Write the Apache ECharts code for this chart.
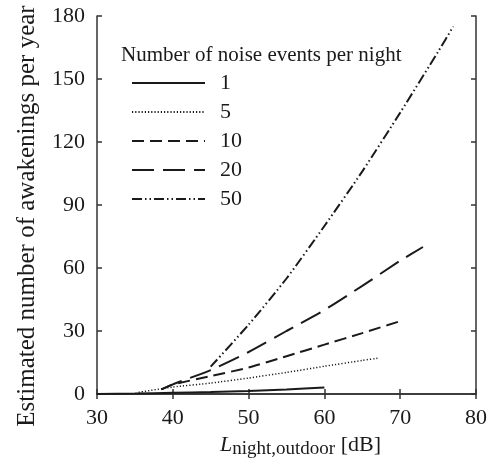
<!DOCTYPE html>
<html>
<head>
<meta charset="utf-8">
<script src="https://cdn.jsdelivr.net/npm/echarts@6/dist/echarts.min.js"></script>
<style>
  html, body { margin: 0; padding: 0; background: #fff; }
  #chart { width: 495px; height: 470px; }
</style>
</head>
<body>
<div id="chart"></div>
<script>
const xTicks = [30, 40, 50, 60, 70, 80];
const yTicks = [0, 30, 60, 90, 120, 150, 180];

const eventCounts = ['1', '5', '10', '20', '50'];

// level [dB] and awakenings per year
const lvl1X = [30, 35, 40, 45, 50, 55, 60];
const lvl1Y = [0, 0.2, 0.6, 0.9, 1.4, 2.1, 3.1];
const lvl5X = [35.5, 40, 45, 50, 55, 60, 65, 67];
const lvl5Y = [0.8, 3.3, 5.2, 7.6, 10.3, 13.2, 16, 17];
const lvl10X = [38.5, 40, 45, 50, 55, 60, 65, 70];
const lvl10Y = [2.2, 4.5, 8.5, 12.6, 18, 23.5, 29, 34.7];
const lvl20X = [38.5, 40, 45, 50, 55, 60, 65, 70, 73];
const lvl20Y = [2.2, 4.6, 11.4, 20, 30, 40, 51.5, 63.5, 70];
const lvl50X = [45, 50, 55, 60, 65, 70, 75, 77];
const lvl50Y = [13, 33, 55, 80, 106, 134, 163, 175];

const zip = (xs, ys) => xs.map((x, i) => [x, ys[i]]);

const font = 'Liberation Serif';
const ink = '#1a1a1a';

const lineKinds = [
  { data: zip(lvl1X, lvl1Y), width: 2, type: 'solid' },
  { data: zip(lvl5X, lvl5Y), width: 1.5, type: [1.2, 2] },
  { data: zip(lvl10X, lvl10Y), width: 2, type: [12, 6] },
  { data: zip(lvl20X, lvl20Y), width: 2, type: [22, 9] },
  { data: zip(lvl50X, lvl50Y), width: 2, type: [10, 3, 1.5, 3, 1.5, 3] }
];

const series = lineKinds.map((k, i) => ({
  name: eventCounts[i],
  type: 'line',
  data: k.data,
  smooth: 0.2,
  symbol: 'none',
  silent: true,
  lineStyle: { color: ink, width: k.width, type: k.type },
  itemStyle: { color: ink }
}));

const axisLineStyle = { color: '#333', width: 1.5 };

const option = {
  animation: false,
  textStyle: { fontFamily: font },
  title: {
    text: 'Number of noise events per night',
    left: 116,
    top: 40,
    textStyle: { fontFamily: font, fontSize: 21, fontWeight: 'normal', color: ink }
  },
  legend: {
    orient: 'vertical',
    left: 126,
    top: 67,
    itemWidth: 73,
    itemHeight: 14,
    itemGap: 7,
    data: eventCounts,
    itemStyle: { opacity: 0 },
    textStyle: { fontFamily: font, fontSize: 22, color: ink, padding: [0, 0, 0, 10] }
  },
  grid: { left: 97, right: 19, top: 16, bottom: 76 },
  xAxis: [
    {
      type: 'value',
      min: xTicks[0],
      max: xTicks[xTicks.length - 1],
      interval: 10,
      name: '{it|L}{sub|night,outdoor}{n| [dB]}',
      nameLocation: 'middle',
      nameGap: 40,
      nameTextStyle: {
        padding: [0, 0, 0, 28],
        rich: {
          it: { fontFamily: font, fontStyle: 'italic', fontSize: 22, color: ink, verticalAlign: 'bottom' },
          sub: { fontFamily: font, fontSize: 19, color: ink, verticalAlign: 'bottom', padding: [0, 0, -3, 0] },
          n: { fontFamily: font, fontSize: 22, color: ink, verticalAlign: 'bottom' }
        }
      },
      axisLine: { lineStyle: axisLineStyle },
      axisTick: { inside: true, length: 5, lineStyle: axisLineStyle },
      axisLabel: { fontFamily: font, fontSize: 22, color: ink, margin: 13 },
      splitLine: { show: false }
    },
    {
      type: 'value',
      position: 'top',
      min: xTicks[0],
      max: xTicks[xTicks.length - 1],
      interval: 10,
      axisLine: { show: true, lineStyle: axisLineStyle },
      axisTick: { inside: true, length: 5, lineStyle: axisLineStyle },
      axisLabel: { show: false },
      splitLine: { show: false }
    }
  ],
  yAxis: [
    {
      type: 'value',
      min: yTicks[0],
      max: yTicks[yTicks.length - 1],
      interval: 30,
      name: 'Estimated number of awakenings per year',
      nameLocation: 'middle',
      nameGap: 57,
      nameTextStyle: { fontFamily: font, fontSize: 25, color: ink, padding: [0, 22, 0, 0] },
      axisLine: { lineStyle: axisLineStyle },
      axisTick: { inside: true, length: 5, lineStyle: axisLineStyle },
      axisLabel: { fontFamily: font, fontSize: 22, color: ink, margin: 12 },
      splitLine: { show: false }
    },
    {
      type: 'value',
      position: 'right',
      min: yTicks[0],
      max: yTicks[yTicks.length - 1],
      interval: 30,
      axisLine: { show: true, lineStyle: axisLineStyle },
      axisTick: { inside: true, length: 5, lineStyle: axisLineStyle },
      axisLabel: { show: false },
      splitLine: { show: false }
    }
  ],
  series: series
};

const chart = echarts.init(document.getElementById('chart'));
chart.setOption(option);
window.addEventListener('resize', () => chart.resize());
</script>
</body>
</html>
